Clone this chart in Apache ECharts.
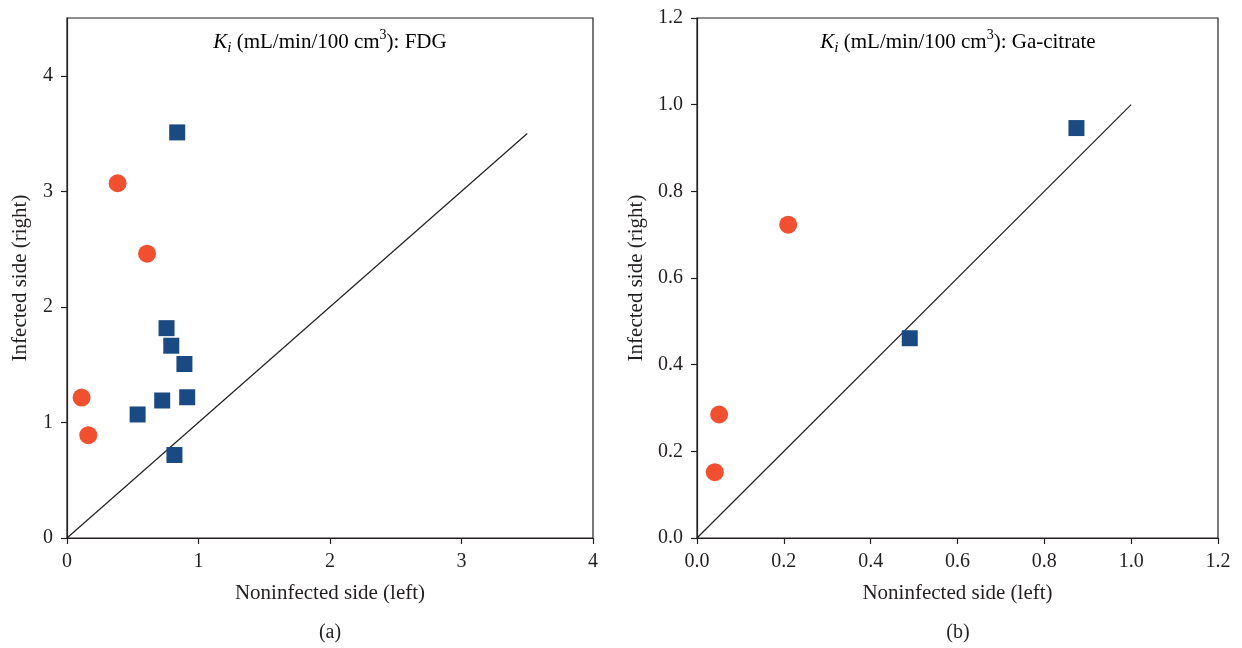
<!DOCTYPE html>
<html>
<head>
<meta charset="utf-8">
<script src="https://cdn.jsdelivr.net/npm/echarts@6/dist/echarts.min.js"></script>
<style>
html,body{margin:0;padding:0;background:#fff;}
#chart{width:1242px;height:648px;}
</style>
</head>
<body>
<div id="chart"></div>
<script>
// Panel (a): FDG
const fdgCircleX = [0.385, 0.609, 0.111, 0.162];
const fdgCircleY = [3.07, 2.46, 1.215, 0.89];
const fdgSquareX = [0.838, 0.757, 0.793, 0.893, 0.914, 0.724, 0.537, 0.817];
const fdgSquareY = [3.51, 1.816, 1.664, 1.506, 1.218, 1.19, 1.069, 0.718];
const fdgIdentity = [[0, 0], [3.5, 3.5]];
const fdgTicks = [0, 1, 2, 3, 4];

// Panel (b): Ga-citrate
const gaCircleX = [0.21, 0.051, 0.041];
const gaCircleY = [0.723, 0.285, 0.152];
const gaSquareX = [0.49, 0.874];
const gaSquareY = [0.461, 0.946];
const gaIdentity = [[0, 0], [1, 1]];
const gaTicks = [0, 0.2, 0.4, 0.6, 0.8, 1.0, 1.2];

const xName = 'Noninfected side (left)';
const yName = 'Infected side (right)';
const captions = ['(a)', '(b)'];
const tracers = ['FDG', 'Ga-citrate'];

const FONT = '"Liberation Serif", "DejaVu Serif", serif';
const INK = '#231F20';
const ORANGE = '#F05030';
const BLUE = '#1A4A82';

function zip(xs, ys) { return xs.map((x, i) => [x, ys[i]]); }

function axisCommon(extra) {
  return Object.assign({
    type: 'value',
    splitLine: { show: false },
    axisLine: { show: true, onZero: false, lineStyle: { color: INK, width: 1.2 } },
    axisTick: { show: true, inside: false, length: 6, lineStyle: { color: INK, width: 1.2 } },
    axisLabel: { color: INK, fontFamily: FONT, fontSize: 20, margin: 14 },
    nameTextStyle: { color: INK, fontFamily: FONT, fontSize: 21 }
  }, extra);
}

const chart = echarts.init(document.getElementById('chart'), null, { renderer: 'canvas' });

const grids = [
  { left: 67, top: 18, width: 526, height: 520, show: true, borderColor: INK, borderWidth: 1.2, backgroundColor: 'transparent' },
  { left: 697, top: 18, width: 521, height: 520, show: true, borderColor: INK, borderWidth: 1.2, backgroundColor: 'transparent' }
];

const xAxes = [
  axisCommon({ gridIndex: 0, min: 0, max: 4, interval: 1, name: xName, nameLocation: 'middle', nameGap: 45 }),
  axisCommon({ gridIndex: 1, min: 0, max: 1.2, interval: 0.2, name: xName, nameLocation: 'middle', nameGap: 45 })
];
xAxes[1].axisLabel = Object.assign({}, xAxes[1].axisLabel, { formatter: v => v.toFixed(1) });

const yAxes = [
  axisCommon({ gridIndex: 0, min: 0, max: 4.5, interval: 1, name: yName, nameLocation: 'middle', nameGap: 36 }),
  axisCommon({ gridIndex: 1, min: 0, max: 1.2, interval: 0.2, name: yName, nameLocation: 'middle', nameGap: 50 })
];
yAxes[0].axisLabel = Object.assign({}, yAxes[0].axisLabel, { customValues: fdgTicks });
yAxes[0].axisTick = Object.assign({}, yAxes[0].axisTick, { customValues: fdgTicks });
yAxes[1].axisLabel = Object.assign({}, yAxes[1].axisLabel, { formatter: v => v.toFixed(1) });

function lineSeries(idx, data) {
  return {
    type: 'line', xAxisIndex: idx, yAxisIndex: idx, data: data,
    showSymbol: false, symbol: 'none', silent: true, z: 1,
    lineStyle: { color: INK, width: 1.2 }
  };
}
function circleSeries(idx, name, data) {
  return {
    type: 'scatter', name: name, xAxisIndex: idx, yAxisIndex: idx, data: data,
    symbol: 'circle', symbolSize: 18, itemStyle: { color: ORANGE, opacity: 1 }, z: 3
  };
}
function squareSeries(idx, name, data) {
  return {
    type: 'scatter', name: name, xAxisIndex: idx, yAxisIndex: idx, data: data,
    symbol: 'rect', symbolSize: 16, itemStyle: { color: BLUE, opacity: 1 }, z: 3
  };
}

const richStyle = {
  n: { fontFamily: FONT, fontSize: 21, color: INK, verticalAlign: 'middle', lineHeight: 28 },
  k: { fontFamily: FONT, fontSize: 21, color: INK, fontStyle: 'italic', verticalAlign: 'middle', lineHeight: 28 },
  sub: { fontFamily: FONT, fontSize: 15, color: INK, fontStyle: 'italic', verticalAlign: 'bottom', lineHeight: 28 },
  sup: { fontFamily: FONT, fontSize: 14, color: INK, verticalAlign: 'top', lineHeight: 28 }
};
function titleText(tracer) {
  return '{k|K}{sub|i}{n| (mL/min/100 cm}{sup|3}{n|): ' + tracer + '}';
}

chart.setOption({
  animation: false,
  backgroundColor: '#fff',
  grid: grids,
  xAxis: xAxes,
  yAxis: yAxes,
  series: [
    lineSeries(0, fdgIdentity),
    circleSeries(0, 'FDG circles', zip(fdgCircleX, fdgCircleY)),
    squareSeries(0, 'FDG squares', zip(fdgSquareX, fdgSquareY)),
    lineSeries(1, gaIdentity),
    circleSeries(1, 'Ga circles', zip(gaCircleX, gaCircleY)),
    squareSeries(1, 'Ga squares', zip(gaSquareX, gaSquareY))
  ],
  graphic: [
    { type: 'text', x: 330, y: 42, style: { text: titleText(tracers[0]), rich: richStyle, align: 'center', verticalAlign: 'middle' } },
    { type: 'text', x: 958, y: 42, style: { text: titleText(tracers[1]), rich: richStyle, align: 'center', verticalAlign: 'middle' } },
    { type: 'text', x: 330, y: 633, style: { text: captions[0], font: '20px ' + FONT, fill: INK, align: 'center', verticalAlign: 'middle' } },
    { type: 'text', x: 958, y: 633, style: { text: captions[1], font: '20px ' + FONT, fill: INK, align: 'center', verticalAlign: 'middle' } }
  ]
});
</script>
</body>
</html>
